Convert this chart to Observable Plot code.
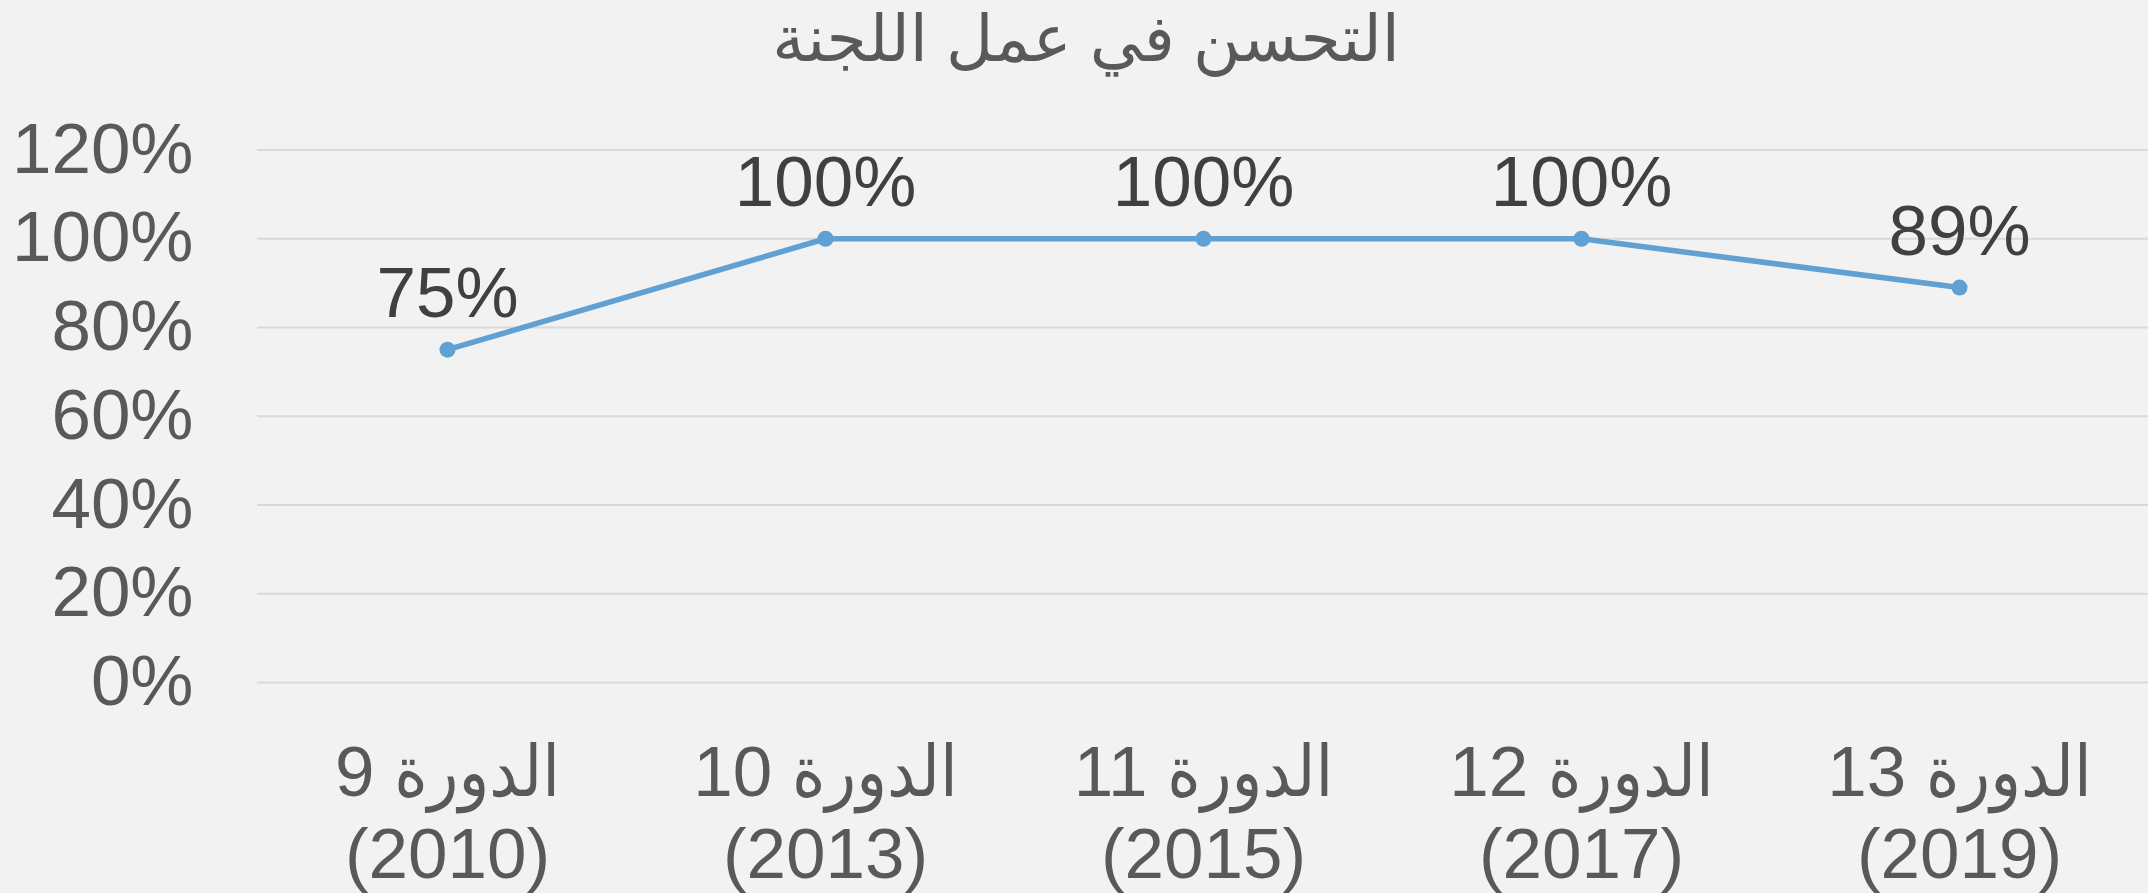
<!DOCTYPE html>
<html>
<head>
<meta charset="utf-8">
<script src="https://cdn.jsdelivr.net/npm/d3@7"></script>
<script src="https://cdn.jsdelivr.net/npm/@observablehq/plot@0.6"></script>
<style>
  html, body { margin: 0; padding: 0; background: #f2f2f2; }
  body { width: 2148px; height: 893px; overflow: hidden; font-family: "Liberation Sans", Arial, "DejaVu Sans Condensed", "DejaVu Sans", sans-serif; }
  #title { height: 100px; line-height: 78px; text-align: center; font-size: 65px; color: #595959; padding-left: 24px; box-sizing: border-box; direction: rtl; font-family: "Liberation Sans", Arial, "DejaVu Sans", sans-serif; }
</style>
</head>
<body>
<div id="title">التحسن في عمل اللجنة</div>
<div id="chart"></div>
<script>
const sessions = ["الدورة 9", "الدورة 10", "الدورة 11", "الدورة 12", "الدورة 13"];
const years = ["(2010)", "(2013)", "(2015)", "(2017)", "(2019)"];
const values = [0.75, 1.00, 1.00, 1.00, 0.89];
const yTicks = [0, 0.2, 0.4, 0.6, 0.8, 1.0, 1.2];

const data = sessions.map((s, i) => ({session: s, year: years[i], value: values[i]}));
const fmt = d3.format(".0%");
const yearOf = new Map(sessions.map((s, i) => [s, years[i]]));
const FONT = "\"Liberation Sans\", Arial, \"DejaVu Sans Condensed\", \"DejaVu Sans\", sans-serif";

const chart = Plot.plot({
  width: 2148,
  height: 793,
  marginLeft: 257,
  marginRight: 0,
  marginTop: 49.5,
  marginBottom: 211,
  style: {background: "transparent", fontFamily: FONT, color: "#595959"},
  x: {type: "point", domain: sessions, padding: 0.5},
  y: {domain: [0, 1.2]},
  marks: [
    Plot.ruleY(yTicks, {stroke: "#d9d9d9", strokeWidth: 2}),
    Plot.axisY(yTicks, {tickSize: 0, tickPadding: 64, tickFormat: fmt, fontSize: 71, fill: "#595959", label: null}),
    Plot.axisX({tickSize: 0, tickPadding: 56, fontSize: 71, fill: "#595959", lineAnchor: "top", lineHeight: 1.15, label: null,
      tickFormat: d => d + "\n" + yearOf.get(d)}),
    Plot.line(data, {x: "session", y: "value", stroke: "#60a0d2", strokeWidth: 5.5}),
    Plot.dot(data, {x: "session", y: "value", r: 8, fill: "#60a0d2", stroke: "none"}),
    Plot.text(data, {x: "session", y: "value", text: d => fmt(d.value), dy: -33, lineAnchor: "bottom", fontSize: 71, fill: "#404040"})
  ]
});
d3.select(chart).selectAll('g[aria-label="x-axis tick label"] text').attr("direction", "rtl");
document.getElementById("chart").appendChild(chart);
</script>
</body>
</html>
